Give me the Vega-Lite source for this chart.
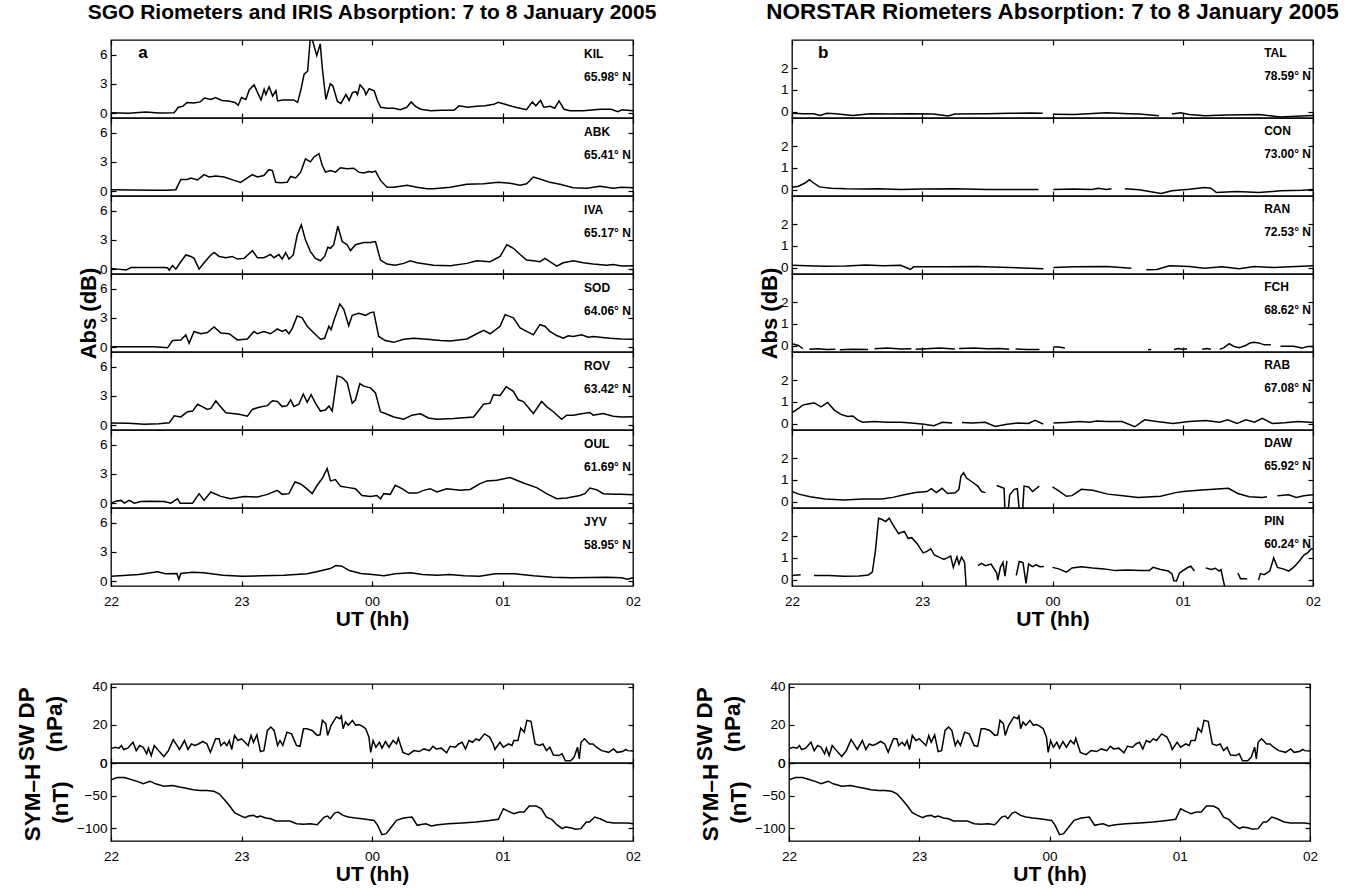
{
"$schema": "https://vega.github.io/schema/vega-lite/v6.json",
"padding": {"left": 15, "top": 0, "right": 5, "bottom": 5},
"background": "white",
"config": {
 "font": "Liberation Sans",
 "view": {"stroke": "black", "strokeWidth": 1.3},
 "axis": {"domain": false, "grid": false, "ticks": true, "tickSize": -5, "tickColor": "black", "tickWidth": 1.2, "labelColor": "black", "labelFont": "Liberation Sans", "labelFontSize": 13.5, "labelPadding": 9, "labelFlush": false, "labelOverlap": false, "titleFont": "Liberation Sans", "titleFontWeight": "bold", "titleColor": "black", "titleFontSize": 21},
 "axisX": {"labelPadding": 13, "titlePadding": 1},
 "axisY": {"titleFontSize": 22, "titlePadding": -1}
},
"datasets": {
 "KIL": [{"t":0,"v":0.05},{"t":8,"v":0.0},{"t":16,"v":0.12},{"t":22,"v":0.02},{"t":29,"v":0.05},{"t":31,"v":0.6},{"t":33,"v":0.7},{"t":35,"v":1.1},{"t":38,"v":1.05},{"t":41,"v":1.15},{"t":43,"v":1.55},{"t":46,"v":1.4},{"t":48,"v":1.6},{"t":51,"v":1.3},{"t":54,"v":1.25},{"t":57,"v":1.1},{"t":58.5,"v":0.8},{"t":60,"v":1.6},{"t":62,"v":1.4},{"t":63.6,"v":2.4},{"t":65.8,"v":2.9},{"t":67.4,"v":2.1},{"t":69,"v":1.35},{"t":70.4,"v":2.45},{"t":71.2,"v":1.9},{"t":72.7,"v":2.7},{"t":74.3,"v":1.75},{"t":75.8,"v":2.3},{"t":76.6,"v":1.25},{"t":79,"v":1.35},{"t":84,"v":1.35},{"t":85.8,"v":1.1},{"t":87.3,"v":2.4},{"t":88.8,"v":4.0},{"t":90.4,"v":4.3},{"t":91.6,"v":7.6},{"t":92.6,"v":7.5},{"t":94.6,"v":5.9},{"t":96.2,"v":7.1},{"t":97.2,"v":4.5},{"t":98.8,"v":1.4},{"t":100.8,"v":3.0},{"t":102,"v":2.8},{"t":104.1,"v":1.2},{"t":105.7,"v":1.0},{"t":108,"v":1.9},{"t":109.5,"v":1.3},{"t":111,"v":2.1},{"t":112.6,"v":2.2},{"t":113.3,"v":1.9},{"t":114.5,"v":2.9},{"t":116.4,"v":2.4},{"t":117.2,"v":1.9},{"t":118.7,"v":2.5},{"t":121,"v":2.3},{"t":122.5,"v":1.3},{"t":124,"v":0.6},{"t":127,"v":0.5},{"t":130,"v":0.5},{"t":133,"v":0.35},{"t":136,"v":0.6},{"t":138,"v":1.15},{"t":140,"v":0.7},{"t":142.4,"v":0.4},{"t":147,"v":0.25},{"t":152,"v":0.3},{"t":157.7,"v":0.3},{"t":160,"v":0.75},{"t":164,"v":0.6},{"t":168,"v":0.7},{"t":172,"v":0.75},{"t":176,"v":0.9},{"t":178,"v":1.1},{"t":182,"v":0.85},{"t":186,"v":0.6},{"t":191,"v":0.35},{"t":193.7,"v":1.15},{"t":195.3,"v":0.75},{"t":197.5,"v":1.3},{"t":199,"v":0.6},{"t":202,"v":0.7},{"t":204,"v":0.5},{"t":206,"v":1.25},{"t":208.3,"v":0.4},{"t":211,"v":0.25},{"t":217,"v":0.25},{"t":225,"v":0.4},{"t":230,"v":0.4},{"t":233,"v":0.15},{"t":235,"v":0.35},{"t":240,"v":0.25}],
 "ABK": [{"t":0,"v":0.15},{"t":10,"v":0.12},{"t":20,"v":0.1},{"t":26,"v":0.08},{"t":29.8,"v":0.15},{"t":32.1,"v":1.2},{"t":35.2,"v":1.2},{"t":36.7,"v":1.35},{"t":39.8,"v":1.15},{"t":42.8,"v":1.7},{"t":45.1,"v":1.45},{"t":48.2,"v":1.55},{"t":52,"v":1.45},{"t":56.6,"v":1.1},{"t":59.6,"v":0.9},{"t":62.7,"v":1.35},{"t":65,"v":1.7},{"t":67.3,"v":1.45},{"t":70.3,"v":1.6},{"t":72.6,"v":2.2},{"t":74.2,"v":2.1},{"t":75.7,"v":0.9},{"t":78,"v":0.85},{"t":81,"v":0.9},{"t":82.6,"v":1.5},{"t":84.9,"v":1.35},{"t":87.2,"v":1.95},{"t":89.4,"v":3.3},{"t":91.7,"v":3.0},{"t":93.3,"v":3.5},{"t":95.6,"v":3.85},{"t":97.1,"v":2.65},{"t":98.6,"v":1.95},{"t":100.9,"v":2.1},{"t":103.2,"v":1.95},{"t":105.5,"v":2.4},{"t":108.6,"v":2.3},{"t":111.6,"v":2.35},{"t":113.9,"v":1.95},{"t":116.2,"v":1.85},{"t":118.5,"v":2.0},{"t":120,"v":1.95},{"t":121.6,"v":2.05},{"t":123.9,"v":1.1},{"t":126.9,"v":0.4},{"t":130,"v":0.4},{"t":136.1,"v":0.6},{"t":140.7,"v":0.4},{"t":145.3,"v":0.25},{"t":148.3,"v":0.25},{"t":156,"v":0.4},{"t":163.6,"v":0.7},{"t":171.3,"v":0.75},{"t":178.1,"v":0.9},{"t":183.5,"v":0.8},{"t":188.1,"v":0.6},{"t":191.1,"v":0.75},{"t":194.2,"v":1.45},{"t":197.2,"v":1.25},{"t":201.8,"v":0.9},{"t":206.4,"v":0.7},{"t":212.5,"v":0.35},{"t":218.7,"v":0.3},{"t":224.8,"v":0.5},{"t":230.9,"v":0.3},{"t":234.7,"v":0.4},{"t":240,"v":0.35}],
 "IVA": [{"t":0,"v":0.07},{"t":3.1,"v":0.0},{"t":6.9,"v":-0.1},{"t":9.2,"v":0.17},{"t":13.8,"v":0.17},{"t":24.5,"v":0.17},{"t":26,"v":0.14},{"t":26.8,"v":-0.1},{"t":28.3,"v":0.38},{"t":29.8,"v":0.0},{"t":32.1,"v":0.76},{"t":34.4,"v":1.45},{"t":36.7,"v":1.3},{"t":38.2,"v":1.1},{"t":40.5,"v":0.0},{"t":42.8,"v":0.65},{"t":45.9,"v":1.45},{"t":47.4,"v":1.72},{"t":49.7,"v":1.3},{"t":52.8,"v":1.17},{"t":55.8,"v":1.3},{"t":58.1,"v":1.03},{"t":61.2,"v":1.1},{"t":65,"v":1.9},{"t":67.3,"v":1.17},{"t":70.3,"v":1.17},{"t":73.4,"v":1.5},{"t":74.9,"v":1.17},{"t":77.2,"v":1.5},{"t":78.7,"v":1.03},{"t":80.3,"v":1.7},{"t":81.8,"v":1.03},{"t":83.8,"v":1.45},{"t":85.6,"v":3.5},{"t":87.5,"v":4.55},{"t":89.4,"v":3.0},{"t":91.7,"v":1.8},{"t":94,"v":1.1},{"t":96.3,"v":0.86},{"t":98.2,"v":1.3},{"t":99.7,"v":2.24},{"t":100.9,"v":2.14},{"t":102.4,"v":2.5},{"t":104.3,"v":4.4},{"t":106.3,"v":2.83},{"t":108.6,"v":2.5},{"t":110.1,"v":1.9},{"t":112.4,"v":2.5},{"t":116.2,"v":2.72},{"t":119.3,"v":2.72},{"t":121.6,"v":2.83},{"t":123.9,"v":0.93},{"t":126.9,"v":0.52},{"t":130.7,"v":0.41},{"t":134.6,"v":0.59},{"t":137.6,"v":0.86},{"t":140.7,"v":0.65},{"t":148.3,"v":0.41},{"t":156,"v":0.34},{"t":163.6,"v":0.59},{"t":168.2,"v":0.86},{"t":174.3,"v":0.76},{"t":178.9,"v":1.3},{"t":182,"v":2.5},{"t":185,"v":2.14},{"t":188.1,"v":1.5},{"t":191.1,"v":0.93},{"t":194.2,"v":0.86},{"t":197.2,"v":0.76},{"t":199.5,"v":1.1},{"t":201.8,"v":0.76},{"t":204.9,"v":0.31},{"t":208,"v":0.65},{"t":212.5,"v":0.86},{"t":217.1,"v":0.65},{"t":221.7,"v":0.52},{"t":227.8,"v":0.41},{"t":230.9,"v":0.48},{"t":234.7,"v":0.31},{"t":240,"v":0.35}],
 "SOD": [{"t":0,"v":0.05},{"t":10,"v":0.05},{"t":20,"v":0.03},{"t":26,"v":-0.07},{"t":28.3,"v":0.67},{"t":32.1,"v":0.74},{"t":34.4,"v":1.26},{"t":35.9,"v":0.39},{"t":38.2,"v":1.61},{"t":41.3,"v":1.37},{"t":44.3,"v":1.5},{"t":47.4,"v":2.07},{"t":50.5,"v":1.44},{"t":54.3,"v":1.37},{"t":58.1,"v":0.74},{"t":62.7,"v":0.84},{"t":65.7,"v":1.61},{"t":67.3,"v":1.37},{"t":70.3,"v":1.61},{"t":73.4,"v":1.37},{"t":76.5,"v":1.86},{"t":78.7,"v":1.61},{"t":80.3,"v":1.79},{"t":81.8,"v":1.37},{"t":83.3,"v":1.9},{"t":85.6,"v":3.2},{"t":87.9,"v":3.0},{"t":90.2,"v":2.14},{"t":93.3,"v":1.44},{"t":96.3,"v":0.81},{"t":98.2,"v":0.91},{"t":100.2,"v":2.14},{"t":101.2,"v":1.79},{"t":102.4,"v":2.67},{"t":105.2,"v":4.42},{"t":107,"v":3.9},{"t":109.3,"v":2.2},{"t":110.9,"v":3.26},{"t":113.9,"v":3.47},{"t":117,"v":3.26},{"t":119.3,"v":3.54},{"t":120.8,"v":3.6},{"t":123.1,"v":1.09},{"t":126.1,"v":0.67},{"t":130,"v":0.49},{"t":134.6,"v":0.81},{"t":139.1,"v":0.91},{"t":145.3,"v":0.81},{"t":151.4,"v":0.67},{"t":156,"v":0.64},{"t":163.6,"v":0.84},{"t":168.2,"v":1.37},{"t":171.3,"v":1.72},{"t":174.3,"v":1.37},{"t":178.9,"v":2.14},{"t":181.2,"v":3.33},{"t":185,"v":3.0},{"t":188.1,"v":1.96},{"t":191.1,"v":1.61},{"t":194.2,"v":1.26},{"t":197.2,"v":2.3},{"t":199.5,"v":2.14},{"t":201.8,"v":1.61},{"t":204.9,"v":1.19},{"t":208,"v":0.91},{"t":210.2,"v":1.16},{"t":212.5,"v":1.09},{"t":216.4,"v":1.26},{"t":219.4,"v":1.02},{"t":221.7,"v":1.09},{"t":224.8,"v":1.02},{"t":229.4,"v":0.91},{"t":234.7,"v":0.84},{"t":240,"v":0.8}],
 "ROV": [{"t":0,"v":0.21},{"t":8,"v":0.2},{"t":15.3,"v":0.1},{"t":22,"v":0.15},{"t":26.8,"v":0.24},{"t":29.1,"v":0.95},{"t":32.1,"v":0.84},{"t":35.2,"v":1.37},{"t":37.5,"v":1.44},{"t":39.8,"v":2.14},{"t":42,"v":1.9},{"t":44.3,"v":1.61},{"t":45.9,"v":1.72},{"t":48.2,"v":2.5},{"t":49.7,"v":2.07},{"t":52.8,"v":1.26},{"t":55.8,"v":1.19},{"t":58.9,"v":1.12},{"t":62.7,"v":0.91},{"t":65,"v":1.61},{"t":67.3,"v":1.79},{"t":69.6,"v":1.9},{"t":71.9,"v":2.0},{"t":74.2,"v":2.5},{"t":76.5,"v":2.42},{"t":78.7,"v":1.9},{"t":81,"v":2.0},{"t":82.6,"v":2.6},{"t":84.1,"v":1.9},{"t":86.4,"v":2.14},{"t":88.4,"v":3.19},{"t":90.2,"v":2.35},{"t":92,"v":3.12},{"t":94,"v":2.25},{"t":96.3,"v":1.44},{"t":98.6,"v":1.54},{"t":100.2,"v":1.96},{"t":101.7,"v":1.44},{"t":104,"v":5.05},{"t":106.3,"v":4.88},{"t":108.6,"v":4.35},{"t":110.9,"v":2.25},{"t":112.4,"v":2.6},{"t":114.4,"v":4.25},{"t":116.2,"v":4.0},{"t":119.3,"v":3.82},{"t":121.6,"v":3.3},{"t":123.9,"v":1.37},{"t":126.1,"v":1.19},{"t":130,"v":0.84},{"t":134.6,"v":0.6},{"t":138.4,"v":1.02},{"t":142.2,"v":1.16},{"t":146,"v":0.74},{"t":149.8,"v":0.6},{"t":157.5,"v":0.67},{"t":166.7,"v":0.84},{"t":171.3,"v":2.14},{"t":174.3,"v":2.25},{"t":175.8,"v":3.12},{"t":178.9,"v":3.05},{"t":181.7,"v":3.93},{"t":185,"v":3.47},{"t":187.3,"v":2.6},{"t":189.6,"v":2.42},{"t":194.2,"v":1.19},{"t":198,"v":2.42},{"t":200.3,"v":1.9},{"t":203.4,"v":1.37},{"t":207.2,"v":0.6},{"t":209.5,"v":1.02},{"t":212.5,"v":1.02},{"t":217.1,"v":1.19},{"t":220.2,"v":1.3},{"t":221.7,"v":1.02},{"t":226.3,"v":1.19},{"t":230.9,"v":0.91},{"t":234.7,"v":0.84},{"t":240,"v":0.85}],
 "OUL": [{"t":0,"v":0.0},{"t":2.3,"v":0.2},{"t":4.6,"v":0.28},{"t":6.1,"v":0.0},{"t":8.4,"v":0.28},{"t":10.7,"v":0.0},{"t":13.8,"v":0.17},{"t":18.3,"v":0.2},{"t":24.5,"v":0.17},{"t":27.5,"v":0.0},{"t":30.6,"v":0.45},{"t":31.8,"v":0.0},{"t":37.5,"v":0.0},{"t":40.5,"v":0.97},{"t":42.8,"v":0.28},{"t":45.9,"v":1.14},{"t":50.5,"v":0.69},{"t":55,"v":0.45},{"t":61.2,"v":0.69},{"t":67.3,"v":0.62},{"t":71.9,"v":0.9},{"t":76.5,"v":1.31},{"t":78.7,"v":0.9},{"t":81.8,"v":0.97},{"t":84.6,"v":2.17},{"t":87.2,"v":1.97},{"t":89.4,"v":1.59},{"t":92.5,"v":0.97},{"t":94.8,"v":1.83},{"t":97.1,"v":2.52},{"t":99.4,"v":3.55},{"t":100.9,"v":2.28},{"t":103.2,"v":2.41},{"t":105.5,"v":1.72},{"t":109.3,"v":1.59},{"t":112.4,"v":1.48},{"t":115.4,"v":0.79},{"t":119.3,"v":0.69},{"t":122.3,"v":0.79},{"t":123.9,"v":0.45},{"t":125.4,"v":0.97},{"t":128.4,"v":0.9},{"t":130.7,"v":1.83},{"t":133.8,"v":1.48},{"t":136.9,"v":1.03},{"t":140.7,"v":1.03},{"t":143.7,"v":1.31},{"t":146.8,"v":1.48},{"t":149.8,"v":1.14},{"t":154.4,"v":1.48},{"t":160.6,"v":1.31},{"t":165.1,"v":1.4},{"t":169.7,"v":2.0},{"t":172.8,"v":2.28},{"t":177.4,"v":2.34},{"t":183.5,"v":2.62},{"t":189.6,"v":2.07},{"t":195.7,"v":1.59},{"t":200.3,"v":0.97},{"t":204.9,"v":0.45},{"t":209.5,"v":0.52},{"t":215.6,"v":0.79},{"t":217.9,"v":0.97},{"t":220.2,"v":1.55},{"t":223.2,"v":1.38},{"t":226.3,"v":0.97},{"t":230.9,"v":0.9},{"t":234.7,"v":0.9},{"t":240,"v":0.85}],
 "JYV": [{"t":0,"v":0.5},{"t":5.6,"v":0.58},{"t":12.7,"v":0.68},{"t":21.5,"v":0.95},{"t":25,"v":0.75},{"t":30.3,"v":0.78},{"t":31.2,"v":0.17},{"t":32.1,"v":0.78},{"t":37.4,"v":0.92},{"t":42.6,"v":0.85},{"t":51.5,"v":0.61},{"t":60.3,"v":0.5},{"t":69.1,"v":0.54},{"t":79.6,"v":0.61},{"t":90.2,"v":0.75},{"t":95.5,"v":1.02},{"t":100.8,"v":1.29},{"t":103.4,"v":1.6},{"t":106.1,"v":1.53},{"t":109.6,"v":1.08},{"t":114.9,"v":0.78},{"t":120.2,"v":0.68},{"t":125.5,"v":0.54},{"t":130.7,"v":0.75},{"t":137.8,"v":0.85},{"t":143.1,"v":0.68},{"t":150.1,"v":0.61},{"t":155.4,"v":0.68},{"t":162.5,"v":0.54},{"t":169.5,"v":0.5},{"t":176.6,"v":0.75},{"t":185.4,"v":0.75},{"t":194.2,"v":0.54},{"t":203,"v":0.41},{"t":211.8,"v":0.34},{"t":220.6,"v":0.37},{"t":227.7,"v":0.41},{"t":234.7,"v":0.34},{"t":237.4,"v":0.2},{"t":240,"v":0.34}],
 "TAL": [{"t":0,"v":-0.08},{"t":5,"v":-0.1},{"t":10,"v":-0.1},{"t":13,"v":-0.18},{"t":16,"v":-0.08},{"t":20,"v":-0.1},{"t":28,"v":-0.18},{"t":36,"v":-0.1},{"t":45,"v":-0.12},{"t":55,"v":-0.1},{"t":65,"v":-0.12},{"t":72,"v":-0.21},{"t":75,"v":-0.12},{"t":90,"v":-0.1},{"t":100,"v":-0.08},{"t":110,"v":-0.07},{"t":115.5,"v":-0.08},{"t":117,"v":null},{"t":120.5,"v":-0.13},{"t":130,"v":-0.14},{"t":145,"v":-0.06},{"t":155,"v":-0.1},{"t":160,"v":-0.12},{"t":169,"v":-0.2},{"t":172,"v":null},{"t":175,"v":-0.12},{"t":179,"v":-0.06},{"t":183,"v":-0.14},{"t":190,"v":-0.2},{"t":200,"v":-0.16},{"t":215,"v":-0.14},{"t":222,"v":-0.22},{"t":225,"v":-0.25},{"t":232,"v":-0.22},{"t":240,"v":-0.18}],
 "CON": [{"t":0,"v":0.1},{"t":3,"v":0.15},{"t":6,"v":0.3},{"t":8,"v":0.45},{"t":10,"v":0.3},{"t":12.6,"v":0.12},{"t":18,"v":0.06},{"t":25,"v":0.03},{"t":33,"v":0.02},{"t":40,"v":0.03},{"t":50,"v":0.0},{"t":60,"v":0.02},{"t":75,"v":0.03},{"t":90,"v":0.0},{"t":105,"v":0.0},{"t":113.5,"v":0.0},{"t":117,"v":null},{"t":120.4,"v":0.0},{"t":130,"v":0.02},{"t":138,"v":0.0},{"t":141,"v":0.06},{"t":145,"v":0.0},{"t":147.2,"v":0.03},{"t":150,"v":null},{"t":153.3,"v":0.03},{"t":160,"v":-0.01},{"t":170,"v":-0.18},{"t":175,"v":-0.06},{"t":183,"v":0.01},{"t":190,"v":0.09},{"t":193,"v":0.06},{"t":195.5,"v":-0.14},{"t":205,"v":-0.09},{"t":215,"v":-0.14},{"t":225,"v":-0.06},{"t":235,"v":-0.03},{"t":240,"v":0.0}],
 "RAN": [{"t":0,"v":0.1},{"t":7,"v":0.08},{"t":15,"v":0.06},{"t":25,"v":0.07},{"t":34,"v":0.12},{"t":42,"v":0.08},{"t":50,"v":0.1},{"t":52.5,"v":0.0},{"t":54.6,"v":-0.09},{"t":56,"v":0.03},{"t":70,"v":0.03},{"t":85,"v":0.05},{"t":100,"v":0.0},{"t":115.8,"v":-0.06},{"t":118,"v":null},{"t":120.4,"v":0.0},{"t":130,"v":0.03},{"t":145,"v":0.05},{"t":156.3,"v":-0.04},{"t":160,"v":null},{"t":163.2,"v":-0.1},{"t":168,"v":-0.09},{"t":173.9,"v":0.08},{"t":183,"v":0.05},{"t":190,"v":-0.03},{"t":198,"v":0.03},{"t":206,"v":-0.06},{"t":213,"v":0.05},{"t":222,"v":0.0},{"t":240,"v":0.08}],
 "FCH": [{"t":0,"v":0.08},{"t":3,"v":0.0},{"t":5,"v":-0.15},{"t":6,"v":null},{"t":8,"v":-0.17},{"t":12,"v":-0.15},{"t":16,"v":-0.18},{"t":20,"v":-0.17},{"t":21,"v":null},{"t":22,"v":-0.2},{"t":28,"v":-0.17},{"t":35,"v":-0.18},{"t":36,"v":null},{"t":38,"v":-0.15},{"t":44,"v":-0.12},{"t":50,"v":-0.16},{"t":55,"v":-0.15},{"t":56,"v":null},{"t":57,"v":-0.17},{"t":62,"v":-0.15},{"t":68,"v":-0.12},{"t":75,"v":-0.16},{"t":76,"v":null},{"t":77,"v":-0.14},{"t":84,"v":-0.12},{"t":90,"v":-0.15},{"t":96,"v":-0.14},{"t":100,"v":-0.17},{"t":101,"v":null},{"t":103,"v":-0.16},{"t":108,"v":-0.18},{"t":114,"v":-0.18},{"t":117,"v":null},{"t":120.4,"v":-0.07},{"t":123,"v":-0.07},{"t":125.7,"v":-0.12},{"t":130,"v":null},{"t":164,"v":-0.2},{"t":165.5,"v":-0.18},{"t":167,"v":null},{"t":176,"v":-0.18},{"t":178,"v":-0.14},{"t":180,"v":-0.17},{"t":182,"v":-0.15},{"t":184,"v":null},{"t":189,"v":-0.17},{"t":191,"v":-0.14},{"t":193,"v":-0.17},{"t":195,"v":null},{"t":197,"v":-0.18},{"t":199,"v":-0.1},{"t":201.4,"v":0.08},{"t":203.7,"v":-0.05},{"t":206,"v":-0.1},{"t":209,"v":0.0},{"t":211,"v":0.12},{"t":213,"v":0.15},{"t":215,"v":0.12},{"t":217.5,"v":0.03},{"t":220.6,"v":0.03},{"t":222,"v":null},{"t":225,"v":-0.03},{"t":231,"v":-0.03},{"t":235,"v":-0.12},{"t":237.5,"v":-0.05},{"t":240,"v":-0.05}],
 "RAB": [{"t":0,"v":0.5},{"t":3,"v":0.7},{"t":5,"v":0.85},{"t":7.2,"v":0.9},{"t":10.3,"v":0.95},{"t":13.4,"v":0.77},{"t":16.4,"v":0.97},{"t":19.5,"v":0.62},{"t":22.5,"v":0.42},{"t":25.6,"v":0.32},{"t":28,"v":0.35},{"t":30.2,"v":0.17},{"t":32.5,"v":0.06},{"t":37.8,"v":0.09},{"t":44,"v":0.06},{"t":50,"v":0.06},{"t":55,"v":0.02},{"t":60.8,"v":-0.03},{"t":65.4,"v":-0.1},{"t":69.2,"v":0.06},{"t":73.8,"v":0.02},{"t":76,"v":null},{"t":78.3,"v":0.05},{"t":83,"v":0.02},{"t":89,"v":0.06},{"t":93.6,"v":-0.14},{"t":99,"v":-0.03},{"t":104,"v":0.02},{"t":108.9,"v":0.0},{"t":112,"v":0.15},{"t":115.8,"v":-0.03},{"t":118,"v":null},{"t":120.4,"v":0.02},{"t":126,"v":0.05},{"t":132.6,"v":0.09},{"t":137,"v":0.06},{"t":140.3,"v":0.12},{"t":145,"v":0.09},{"t":152,"v":0.09},{"t":157.9,"v":-0.15},{"t":162.4,"v":0.17},{"t":168,"v":0.09},{"t":175.5,"v":0.0},{"t":183,"v":0.09},{"t":190.7,"v":0.14},{"t":197,"v":0.06},{"t":200.7,"v":0.17},{"t":205,"v":0.0},{"t":209.1,"v":0.17},{"t":213,"v":0.06},{"t":216.7,"v":0.24},{"t":221.3,"v":0.0},{"t":227,"v":0.03},{"t":233,"v":0.09},{"t":240,"v":0.05}],
 "DAW": [{"t":0,"v":0.46},{"t":3.1,"v":0.34},{"t":8.3,"v":0.22},{"t":15.3,"v":0.12},{"t":24,"v":0.07},{"t":32.6,"v":0.12},{"t":41.3,"v":0.12},{"t":46.5,"v":0.19},{"t":51.7,"v":0.31},{"t":56.9,"v":0.41},{"t":62.2,"v":0.46},{"t":64.2,"v":0.59},{"t":66.5,"v":0.41},{"t":69.1,"v":0.61},{"t":71.7,"v":0.37},{"t":75.2,"v":0.4},{"t":76.9,"v":0.56},{"t":77.8,"v":1.16},{"t":79,"v":1.33},{"t":80.4,"v":1.08},{"t":83,"v":0.9},{"t":85.6,"v":0.71},{"t":87.3,"v":0.46},{"t":89.1,"v":0.41},{"t":91.5,"v":null},{"t":94.3,"v":0.74},{"t":97.7,"v":0.61},{"t":98.3,"v":-1},{"t":99,"v":-1},{"t":100.3,"v":0.31},{"t":102.4,"v":0.56},{"t":103.8,"v":0.59},{"t":105.2,"v":-1},{"t":105.9,"v":-1},{"t":106.9,"v":0.71},{"t":109,"v":0.67},{"t":110.8,"v":0.46},{"t":113.9,"v":0.71},{"t":117,"v":null},{"t":120,"v":0.67},{"t":122.9,"v":0.49},{"t":126.4,"v":0.24},{"t":129,"v":0.27},{"t":133.3,"v":0.56},{"t":138.5,"v":0.52},{"t":145.5,"v":0.34},{"t":152.4,"v":0.27},{"t":159.4,"v":0.19},{"t":169.8,"v":0.24},{"t":176.7,"v":0.41},{"t":180.2,"v":0.46},{"t":187.2,"v":0.52},{"t":194.1,"v":0.56},{"t":201,"v":0.61},{"t":205.4,"v":0.37},{"t":210.6,"v":0.22},{"t":216.7,"v":0.19},{"t":218.8,"v":0.22},{"t":221,"v":null},{"t":223.6,"v":0.27},{"t":228.8,"v":0.31},{"t":232.3,"v":0.19},{"t":235.8,"v":0.27},{"t":240,"v":0.31}],
 "PIN": [{"t":0,"v":0.19},{"t":4,"v":0.22},{"t":6.5,"v":null},{"t":10.1,"v":0.19},{"t":17,"v":0.18},{"t":24,"v":0.15},{"t":30.9,"v":0.16},{"t":35.2,"v":0.21},{"t":37,"v":0.34},{"t":38.4,"v":1.3},{"t":39.9,"v":2.83},{"t":41.3,"v":2.78},{"t":43.1,"v":2.67},{"t":44.8,"v":2.83},{"t":46.5,"v":2.52},{"t":49.1,"v":2.12},{"t":51.7,"v":2.22},{"t":53.5,"v":1.9},{"t":55.2,"v":1.93},{"t":57.8,"v":1.63},{"t":60.4,"v":1.23},{"t":62.2,"v":1.3},{"t":63.9,"v":1.42},{"t":65.6,"v":1.13},{"t":68.2,"v":1.01},{"t":70,"v":0.93},{"t":71.7,"v":1.01},{"t":73.1,"v":1.08},{"t":74.3,"v":0.56},{"t":76,"v":1.04},{"t":76.9,"v":0.71},{"t":78.1,"v":1.04},{"t":79.5,"v":0.79},{"t":80.7,"v":-1},{"t":83,"v":null},{"t":85.6,"v":0.64},{"t":87.3,"v":0.74},{"t":89.1,"v":0.64},{"t":91.7,"v":0.71},{"t":94.3,"v":0.3},{"t":94.8,"v":-0.03},{"t":96,"v":0.56},{"t":97.2,"v":0.79},{"t":98.1,"v":0.15},{"t":99,"v":0.86},{"t":101,"v":null},{"t":103.3,"v":0.19},{"t":104.7,"v":0.83},{"t":106.4,"v":0.78},{"t":107.8,"v":-0.18},{"t":109,"v":0.71},{"t":110.8,"v":0.59},{"t":112.5,"v":0.68},{"t":114.2,"v":0.59},{"t":116,"v":0.6},{"t":118,"v":null},{"t":120,"v":0.56},{"t":122.9,"v":0.49},{"t":126.4,"v":0.34},{"t":129,"v":0.53},{"t":133.3,"v":0.59},{"t":138.5,"v":0.53},{"t":143.8,"v":0.49},{"t":149,"v":0.41},{"t":154.2,"v":0.44},{"t":161.1,"v":0.41},{"t":164.6,"v":0.41},{"t":166.3,"v":0.56},{"t":169.8,"v":0.46},{"t":173.3,"v":0.39},{"t":175,"v":0.27},{"t":175.9,"v":-0.06},{"t":177.1,"v":-0.07},{"t":178.5,"v":0.3},{"t":181.9,"v":0.53},{"t":183.7,"v":0.61},{"t":185.4,"v":0.39},{"t":188,"v":null},{"t":190.6,"v":0.53},{"t":193.2,"v":0.46},{"t":195,"v":0.52},{"t":196.7,"v":0.39},{"t":197.6,"v":0.46},{"t":199,"v":-0.18},{"t":199.7,"v":-0.5},{"t":202,"v":null},{"t":205.4,"v":0.3},{"t":206.6,"v":0.04},{"t":209.7,"v":0.04},{"t":212,"v":null},{"t":214.9,"v":-0.03},{"t":215.8,"v":0.27},{"t":217.5,"v":0.22},{"t":220.1,"v":0.39},{"t":221.9,"v":1.0},{"t":223.6,"v":0.56},{"t":226.2,"v":0.49},{"t":228.8,"v":0.39},{"t":231.4,"v":0.59},{"t":234,"v":0.89},{"t":235.8,"v":1.13},{"t":237.5,"v":1.23},{"t":239.2,"v":1.42},{"t":240,"v":1.4}],
 "SWDP": [{"t":0,"v":7.5},{"t":0.6,"v":7.8},{"t":2.1,"v":8.3},{"t":3.7,"v":7.8},{"t":4.8,"v":9.2},{"t":5.8,"v":7.1},{"t":7.7,"v":7.8},{"t":10.1,"v":10.9},{"t":11.6,"v":6.5},{"t":13.2,"v":9.2},{"t":14.8,"v":8.3},{"t":16.4,"v":4.8},{"t":17.2,"v":7.8},{"t":18.5,"v":3.9},{"t":19.9,"v":9.2},{"t":21.9,"v":6.5},{"t":24.3,"v":3.4},{"t":26.4,"v":6.5},{"t":28.6,"v":12.3},{"t":29.9,"v":10},{"t":31.5,"v":7.1},{"t":33.8,"v":11.8},{"t":35.4,"v":7.1},{"t":37,"v":10},{"t":38.6,"v":9.2},{"t":40.2,"v":10},{"t":42.2,"v":11.3},{"t":44.1,"v":10},{"t":45.7,"v":5.6},{"t":48.1,"v":12.7},{"t":49.7,"v":12.7},{"t":50.5,"v":9.2},{"t":52.1,"v":10.9},{"t":53.3,"v":9.2},{"t":54.4,"v":11.8},{"t":55.5,"v":7.1},{"t":56.8,"v":14.5},{"t":58.4,"v":11.8},{"t":60,"v":12.7},{"t":61.6,"v":10.9},{"t":63.1,"v":9.2},{"t":64.4,"v":14.5},{"t":65.5,"v":10.9},{"t":67.1,"v":14.8},{"t":68.7,"v":6},{"t":70.3,"v":6.5},{"t":71.9,"v":17.1},{"t":73.5,"v":18.9},{"t":75,"v":17.1},{"t":76.6,"v":9.2},{"t":77.7,"v":11.8},{"t":79,"v":9.2},{"t":80.9,"v":16.2},{"t":83,"v":15.3},{"t":85.3,"v":9.2},{"t":86.9,"v":8.8},{"t":88.5,"v":18},{"t":90.1,"v":18},{"t":92.5,"v":17.1},{"t":94.8,"v":14.5},{"t":96.1,"v":14.8},{"t":97.2,"v":22.4},{"t":98.8,"v":20.6},{"t":99.6,"v":14.5},{"t":101.2,"v":19.8},{"t":103.6,"v":24.2},{"t":105.2,"v":23.3},{"t":105.9,"v":24.7},{"t":106.7,"v":18},{"t":107.8,"v":21.5},{"t":109.1,"v":19.8},{"t":111,"v":22.4},{"t":112.6,"v":19.8},{"t":113.9,"v":20.2},{"t":115.5,"v":19.4},{"t":117.1,"v":18},{"t":118.6,"v":13.6},{"t":119.4,"v":5.6},{"t":120.5,"v":11.8},{"t":121.8,"v":8.3},{"t":123.4,"v":10.9},{"t":124.6,"v":7.8},{"t":126.2,"v":11.3},{"t":127.8,"v":8.3},{"t":129.7,"v":11.8},{"t":131.3,"v":10},{"t":132.1,"v":13},{"t":134.2,"v":5.6},{"t":136.8,"v":4.4},{"t":139.2,"v":6.5},{"t":141.6,"v":6},{"t":143.9,"v":7.4},{"t":146.4,"v":6.5},{"t":148,"v":8.8},{"t":149.5,"v":7.4},{"t":151.9,"v":7.8},{"t":154.3,"v":5.3},{"t":155.9,"v":8.8},{"t":158.3,"v":8.3},{"t":159.8,"v":10},{"t":161.4,"v":10.9},{"t":163,"v":7.4},{"t":164.6,"v":11.8},{"t":166.2,"v":10.9},{"t":167.8,"v":12.7},{"t":169.3,"v":11.8},{"t":171.7,"v":15.3},{"t":174.1,"v":13.6},{"t":175.7,"v":10},{"t":176.5,"v":7.1},{"t":178.8,"v":10.9},{"t":180.4,"v":8.3},{"t":182.8,"v":10},{"t":184.4,"v":9.2},{"t":185.2,"v":11.8},{"t":187.1,"v":11.8},{"t":188.4,"v":18.3},{"t":190,"v":16.2},{"t":191.2,"v":22.4},{"t":193.1,"v":21.9},{"t":195,"v":10},{"t":197,"v":9.2},{"t":198.6,"v":10},{"t":200.2,"v":6.5},{"t":201.8,"v":8.3},{"t":203.4,"v":4.2},{"t":205.8,"v":3.9},{"t":207.4,"v":4.8},{"t":208.9,"v":1.2},{"t":211.3,"v":1.2},{"t":212.9,"v":3},{"t":214.5,"v":8.3},{"t":215.3,"v":2.1},{"t":216.1,"v":10.9},{"t":217.7,"v":12.7},{"t":220,"v":10},{"t":221.6,"v":10},{"t":223.2,"v":8.3},{"t":225.6,"v":6.5},{"t":228.8,"v":5.6},{"t":231.1,"v":7.4},{"t":232.7,"v":5.6},{"t":235.1,"v":6},{"t":236.7,"v":7.1},{"t":237.5,"v":6.5},{"t":240,"v":6.3}],
 "SYMH": [{"t":0,"v":-26},{"t":2.9,"v":-22.4},{"t":6.1,"v":-22.4},{"t":8.5,"v":-24.5},{"t":12.4,"v":-28.6},{"t":14.8,"v":-32},{"t":18,"v":-28},{"t":20.4,"v":-32},{"t":24.3,"v":-35.7},{"t":28.3,"v":-34.7},{"t":31.5,"v":-37},{"t":34.6,"v":-38.8},{"t":37.8,"v":-41.3},{"t":41,"v":-42.3},{"t":44.1,"v":-42.3},{"t":47.3,"v":-43.4},{"t":49.7,"v":-47.4},{"t":52.1,"v":-56},{"t":54.4,"v":-65.3},{"t":56.8,"v":-76.5},{"t":59.2,"v":-80.6},{"t":61.6,"v":-84.2},{"t":63.2,"v":-81.6},{"t":65.5,"v":-80.6},{"t":67.1,"v":-83.2},{"t":68.7,"v":-81.6},{"t":71.1,"v":-84.7},{"t":73.5,"v":-85.7},{"t":75.8,"v":-89.3},{"t":79,"v":-89.3},{"t":82.2,"v":-89.3},{"t":85.3,"v":-93.4},{"t":88.5,"v":-94.4},{"t":91.7,"v":-93.4},{"t":94.8,"v":-94.9},{"t":96.4,"v":-89.3},{"t":98,"v":-83.2},{"t":99.6,"v":-81.6},{"t":100.8,"v":-85.7},{"t":102.8,"v":-77},{"t":104.4,"v":-75.5},{"t":106.7,"v":-80.6},{"t":109.1,"v":-83.2},{"t":112.3,"v":-84.7},{"t":115.5,"v":-85.7},{"t":118.7,"v":-87.2},{"t":121,"v":-88.3},{"t":122.6,"v":-95.9},{"t":124.6,"v":-110.2},{"t":126.5,"v":-108.7},{"t":128.9,"v":-98.5},{"t":131.3,"v":-88.3},{"t":134.5,"v":-84.7},{"t":138.4,"v":-83.2},{"t":140.8,"v":-95.9},{"t":143.2,"v":-94.4},{"t":144.8,"v":-93.4},{"t":147.2,"v":-96.9},{"t":150.3,"v":-94.9},{"t":155.1,"v":-93.4},{"t":161.4,"v":-92.3},{"t":167.8,"v":-90.8},{"t":174.1,"v":-88.3},{"t":178.1,"v":-86.7},{"t":180.4,"v":-70.4},{"t":182.8,"v":-74.5},{"t":185.2,"v":-78.1},{"t":187.6,"v":-75.5},{"t":189.9,"v":-75.5},{"t":192.3,"v":-66.3},{"t":195.5,"v":-66.3},{"t":197.9,"v":-70.4},{"t":200.2,"v":-83.2},{"t":202.6,"v":-86.7},{"t":205,"v":-94.9},{"t":207.4,"v":-101},{"t":209,"v":-98.5},{"t":211.3,"v":-99.5},{"t":213.7,"v":-102},{"t":216.1,"v":-101},{"t":218.5,"v":-90.8},{"t":220,"v":-90.8},{"t":222.4,"v":-83.2},{"t":224.8,"v":-85.7},{"t":228,"v":-90.8},{"t":231.1,"v":-92.3},{"t":234.3,"v":-92.3},{"t":237.5,"v":-92.3},{"t":240,"v":-93.4}]
},
"vconcat": [
 {"hconcat": [
  {"vconcat": [
   {"width": 522, "height": 78,
    "title": {"text": "SGO Riometers and IRIS Absorption: 7 to 8 January 2005", "frame": "group", "anchor": "middle", "fontSize": 21, "fontWeight": "bold", "font": "Liberation Sans", "color": "black", "offset": 16},
    "layer": [
     {"data": {"name": "KIL"}, "mark": {"type": "line", "color": "black", "strokeWidth": 1.5, "clip": true},
      "encoding": {"x": {"field": "t", "type": "quantitative", "scale": {"domain": [0,240], "nice": false, "zero": false}, "axis": {"values": [0,60,120,180,240], "labels": false, "title": null}},
                   "y": {"field": "v", "type": "quantitative", "scale": {"domain": [-0.5,7.5], "nice": false, "zero": false}, "axis": {"values": [0,3,6], "title": null}}}},
     {"data": {"values": [{"s": "KIL\n65.98° N"}]}, "mark": {"type": "text", "align": "left", "baseline": "alphabetic", "fontWeight": "bold", "fontSize": 12, "lineBreak": "\n", "lineHeight": 23, "color": "black"},
      "encoding": {"x": {"datum": 217.5, "type": "quantitative", "axis": {"orient": "top", "values": [0,60,120,180,240], "labels": false, "title": null}},
                   "y": {"datum": 5.7, "type": "quantitative", "axis": {"orient": "right", "values": [0,3,6], "labels": false, "title": null}},
                   "text": {"field": "s"}}},
     {"data": {"values": [{"s": "a"}]}, "mark": {"type": "text", "align": "left", "baseline": "alphabetic", "fontWeight": "bold", "fontSize": 17, "color": "black"},
      "encoding": {"x": {"datum": 12.5, "type": "quantitative", "axis": null}, "y": {"datum": 5.65, "type": "quantitative", "axis": null}, "text": {"field": "s"}}}
    ],
    "resolve": {"axis": {"x": "independent", "y": "independent"}}},
   {"width": 522, "height": 78,
    "layer": [
     {"data": {"name": "ABK"}, "mark": {"type": "line", "color": "black", "strokeWidth": 1.5, "clip": true},
      "encoding": {"x": {"field": "t", "type": "quantitative", "scale": {"domain": [0,240], "nice": false, "zero": false}, "axis": {"values": [0,60,120,180,240], "labels": false, "title": null}},
                   "y": {"field": "v", "type": "quantitative", "scale": {"domain": [-0.5,7.5], "nice": false, "zero": false}, "axis": {"values": [0,3,6], "title": null}}}},
     {"data": {"values": [{"s": "ABK\n65.41° N"}]}, "mark": {"type": "text", "align": "left", "baseline": "alphabetic", "fontWeight": "bold", "fontSize": 12, "lineBreak": "\n", "lineHeight": 23, "color": "black"},
      "encoding": {"x": {"datum": 217.5, "type": "quantitative", "axis": {"orient": "top", "values": [0,60,120,180,240], "labels": false, "title": null}},
                   "y": {"datum": 5.7, "type": "quantitative", "axis": {"orient": "right", "values": [0,3,6], "labels": false, "title": null}},
                   "text": {"field": "s"}}}
    ],
    "resolve": {"axis": {"x": "independent", "y": "independent"}}},
   {"width": 522, "height": 78,
    "layer": [
     {"data": {"name": "IVA"}, "mark": {"type": "line", "color": "black", "strokeWidth": 1.5, "clip": true},
      "encoding": {"x": {"field": "t", "type": "quantitative", "scale": {"domain": [0,240], "nice": false, "zero": false}, "axis": {"values": [0,60,120,180,240], "labels": false, "title": null}},
                   "y": {"field": "v", "type": "quantitative", "scale": {"domain": [-0.5,7.5], "nice": false, "zero": false}, "axis": {"values": [0,3,6], "title": null}}}},
     {"data": {"values": [{"s": "IVA\n65.17° N"}]}, "mark": {"type": "text", "align": "left", "baseline": "alphabetic", "fontWeight": "bold", "fontSize": 12, "lineBreak": "\n", "lineHeight": 23, "color": "black"},
      "encoding": {"x": {"datum": 217.5, "type": "quantitative", "axis": {"orient": "top", "values": [0,60,120,180,240], "labels": false, "title": null}},
                   "y": {"datum": 5.7, "type": "quantitative", "axis": {"orient": "right", "values": [0,3,6], "labels": false, "title": null}},
                   "text": {"field": "s"}}}
    ],
    "resolve": {"axis": {"x": "independent", "y": "independent"}}},
   {"width": 522, "height": 78,
    "layer": [
     {"data": {"name": "SOD"}, "mark": {"type": "line", "color": "black", "strokeWidth": 1.5, "clip": true},
      "encoding": {"x": {"field": "t", "type": "quantitative", "scale": {"domain": [0,240], "nice": false, "zero": false}, "axis": {"values": [0,60,120,180,240], "labels": false, "title": null}},
                   "y": {"field": "v", "type": "quantitative", "scale": {"domain": [-0.5,7.5], "nice": false, "zero": false}, "axis": {"values": [0,3,6], "title": "Abs (dB)"}}}},
     {"data": {"values": [{"s": "SOD\n64.06° N"}]}, "mark": {"type": "text", "align": "left", "baseline": "alphabetic", "fontWeight": "bold", "fontSize": 12, "lineBreak": "\n", "lineHeight": 23, "color": "black"},
      "encoding": {"x": {"datum": 217.5, "type": "quantitative", "axis": {"orient": "top", "values": [0,60,120,180,240], "labels": false, "title": null}},
                   "y": {"datum": 5.7, "type": "quantitative", "axis": {"orient": "right", "values": [0,3,6], "labels": false, "title": null}},
                   "text": {"field": "s"}}}
    ],
    "resolve": {"axis": {"x": "independent", "y": "independent"}}},
   {"width": 522, "height": 78,
    "layer": [
     {"data": {"name": "ROV"}, "mark": {"type": "line", "color": "black", "strokeWidth": 1.5, "clip": true},
      "encoding": {"x": {"field": "t", "type": "quantitative", "scale": {"domain": [0,240], "nice": false, "zero": false}, "axis": {"values": [0,60,120,180,240], "labels": false, "title": null}},
                   "y": {"field": "v", "type": "quantitative", "scale": {"domain": [-0.5,7.5], "nice": false, "zero": false}, "axis": {"values": [0,3,6], "title": null}}}},
     {"data": {"values": [{"s": "ROV\n63.42° N"}]}, "mark": {"type": "text", "align": "left", "baseline": "alphabetic", "fontWeight": "bold", "fontSize": 12, "lineBreak": "\n", "lineHeight": 23, "color": "black"},
      "encoding": {"x": {"datum": 217.5, "type": "quantitative", "axis": {"orient": "top", "values": [0,60,120,180,240], "labels": false, "title": null}},
                   "y": {"datum": 5.7, "type": "quantitative", "axis": {"orient": "right", "values": [0,3,6], "labels": false, "title": null}},
                   "text": {"field": "s"}}}
    ],
    "resolve": {"axis": {"x": "independent", "y": "independent"}}},
   {"width": 522, "height": 78,
    "layer": [
     {"data": {"name": "OUL"}, "mark": {"type": "line", "color": "black", "strokeWidth": 1.5, "clip": true},
      "encoding": {"x": {"field": "t", "type": "quantitative", "scale": {"domain": [0,240], "nice": false, "zero": false}, "axis": {"values": [0,60,120,180,240], "labels": false, "title": null}},
                   "y": {"field": "v", "type": "quantitative", "scale": {"domain": [-0.5,7.5], "nice": false, "zero": false}, "axis": {"values": [0,3,6], "title": null}}}},
     {"data": {"values": [{"s": "OUL\n61.69° N"}]}, "mark": {"type": "text", "align": "left", "baseline": "alphabetic", "fontWeight": "bold", "fontSize": 12, "lineBreak": "\n", "lineHeight": 23, "color": "black"},
      "encoding": {"x": {"datum": 217.5, "type": "quantitative", "axis": {"orient": "top", "values": [0,60,120,180,240], "labels": false, "title": null}},
                   "y": {"datum": 5.7, "type": "quantitative", "axis": {"orient": "right", "values": [0,3,6], "labels": false, "title": null}},
                   "text": {"field": "s"}}}
    ],
    "resolve": {"axis": {"x": "independent", "y": "independent"}}},
   {"width": 522, "height": 78,
    "layer": [
     {"data": {"name": "JYV"}, "mark": {"type": "line", "color": "black", "strokeWidth": 1.5, "clip": true},
      "encoding": {"x": {"field": "t", "type": "quantitative", "scale": {"domain": [0,240], "nice": false, "zero": false}, "axis": {"values": [0,60,120,180,240], "labelExpr": "datum.value == 0 ? '22' : datum.value == 60 ? '23' : datum.value == 120 ? '00' : datum.value == 180 ? '01' : '02'", "title": "UT (hh)"}},
                   "y": {"field": "v", "type": "quantitative", "scale": {"domain": [-0.5,7.5], "nice": false, "zero": false}, "axis": {"values": [0,3,6], "title": null}}}},
     {"data": {"values": [{"s": "JYV\n58.95° N"}]}, "mark": {"type": "text", "align": "left", "baseline": "alphabetic", "fontWeight": "bold", "fontSize": 12, "lineBreak": "\n", "lineHeight": 23, "color": "black"},
      "encoding": {"x": {"datum": 217.5, "type": "quantitative", "axis": {"orient": "top", "values": [0,60,120,180,240], "labels": false, "title": null}},
                   "y": {"datum": 5.7, "type": "quantitative", "axis": {"orient": "right", "values": [0,3,6], "labels": false, "title": null}},
                   "text": {"field": "s"}}}
    ],
    "resolve": {"axis": {"x": "independent", "y": "independent"}}}
  ], "spacing": 0, "bounds": "flush"},
  {"vconcat": [
   {"width": 521, "height": 78,
    "title": {"text": "NORSTAR Riometers Absorption: 7 to 8 January 2005", "frame": "group", "anchor": "middle", "fontSize": 22.5, "fontWeight": "bold", "font": "Liberation Sans", "color": "black", "offset": 16},
    "layer": [
     {"data": {"name": "TAL"}, "mark": {"type": "line", "color": "black", "strokeWidth": 1.5, "clip": true},
      "encoding": {"x": {"field": "t", "type": "quantitative", "scale": {"domain": [0,240], "nice": false, "zero": false}, "axis": {"values": [0,60,120,180,240], "labels": false, "title": null}},
                   "y": {"field": "v", "type": "quantitative", "scale": {"domain": [-0.3,3.3], "nice": false, "zero": false}, "axis": {"values": [0,1,2], "title": null}}}},
     {"data": {"values": [{"s": "TAL\n78.59° N"}]}, "mark": {"type": "text", "align": "left", "baseline": "alphabetic", "fontWeight": "bold", "fontSize": 12, "lineBreak": "\n", "lineHeight": 23, "color": "black"},
      "encoding": {"x": {"datum": 217.5, "type": "quantitative", "axis": {"orient": "top", "values": [0,60,120,180,240], "labels": false, "title": null}},
                   "y": {"datum": 2.5, "type": "quantitative", "axis": {"orient": "right", "values": [0,1,2], "labels": false, "title": null}},
                   "text": {"field": "s"}}},
     {"data": {"values": [{"s": "b"}]}, "mark": {"type": "text", "align": "left", "baseline": "alphabetic", "fontWeight": "bold", "fontSize": 17, "color": "black"},
      "encoding": {"x": {"datum": 12, "type": "quantitative", "axis": null}, "y": {"datum": 2.47, "type": "quantitative", "axis": null}, "text": {"field": "s"}}}
    ],
    "resolve": {"axis": {"x": "independent", "y": "independent"}}},
   {"width": 521, "height": 78,
    "layer": [
     {"data": {"name": "CON"}, "mark": {"type": "line", "color": "black", "strokeWidth": 1.5, "clip": true},
      "encoding": {"x": {"field": "t", "type": "quantitative", "scale": {"domain": [0,240], "nice": false, "zero": false}, "axis": {"values": [0,60,120,180,240], "labels": false, "title": null}},
                   "y": {"field": "v", "type": "quantitative", "scale": {"domain": [-0.3,3.3], "nice": false, "zero": false}, "axis": {"values": [0,1,2], "title": null}}}},
     {"data": {"values": [{"s": "CON\n73.00° N"}]}, "mark": {"type": "text", "align": "left", "baseline": "alphabetic", "fontWeight": "bold", "fontSize": 12, "lineBreak": "\n", "lineHeight": 23, "color": "black"},
      "encoding": {"x": {"datum": 217.5, "type": "quantitative", "axis": {"orient": "top", "values": [0,60,120,180,240], "labels": false, "title": null}},
                   "y": {"datum": 2.5, "type": "quantitative", "axis": {"orient": "right", "values": [0,1,2], "labels": false, "title": null}},
                   "text": {"field": "s"}}}
    ],
    "resolve": {"axis": {"x": "independent", "y": "independent"}}},
   {"width": 521, "height": 78,
    "layer": [
     {"data": {"name": "RAN"}, "mark": {"type": "line", "color": "black", "strokeWidth": 1.5, "clip": true},
      "encoding": {"x": {"field": "t", "type": "quantitative", "scale": {"domain": [0,240], "nice": false, "zero": false}, "axis": {"values": [0,60,120,180,240], "labels": false, "title": null}},
                   "y": {"field": "v", "type": "quantitative", "scale": {"domain": [-0.3,3.3], "nice": false, "zero": false}, "axis": {"values": [0,1,2], "title": null}}}},
     {"data": {"values": [{"s": "RAN\n72.53° N"}]}, "mark": {"type": "text", "align": "left", "baseline": "alphabetic", "fontWeight": "bold", "fontSize": 12, "lineBreak": "\n", "lineHeight": 23, "color": "black"},
      "encoding": {"x": {"datum": 217.5, "type": "quantitative", "axis": {"orient": "top", "values": [0,60,120,180,240], "labels": false, "title": null}},
                   "y": {"datum": 2.5, "type": "quantitative", "axis": {"orient": "right", "values": [0,1,2], "labels": false, "title": null}},
                   "text": {"field": "s"}}}
    ],
    "resolve": {"axis": {"x": "independent", "y": "independent"}}},
   {"width": 521, "height": 78,
    "layer": [
     {"data": {"name": "FCH"}, "mark": {"type": "line", "color": "black", "strokeWidth": 1.5, "clip": true},
      "encoding": {"x": {"field": "t", "type": "quantitative", "scale": {"domain": [0,240], "nice": false, "zero": false}, "axis": {"values": [0,60,120,180,240], "labels": false, "title": null}},
                   "y": {"field": "v", "type": "quantitative", "scale": {"domain": [-0.3,3.3], "nice": false, "zero": false}, "axis": {"values": [0,1,2], "title": "Abs (dB)"}}}},
     {"data": {"values": [{"s": "FCH\n68.62° N"}]}, "mark": {"type": "text", "align": "left", "baseline": "alphabetic", "fontWeight": "bold", "fontSize": 12, "lineBreak": "\n", "lineHeight": 23, "color": "black"},
      "encoding": {"x": {"datum": 217.5, "type": "quantitative", "axis": {"orient": "top", "values": [0,60,120,180,240], "labels": false, "title": null}},
                   "y": {"datum": 2.5, "type": "quantitative", "axis": {"orient": "right", "values": [0,1,2], "labels": false, "title": null}},
                   "text": {"field": "s"}}}
    ],
    "resolve": {"axis": {"x": "independent", "y": "independent"}}},
   {"width": 521, "height": 78,
    "layer": [
     {"data": {"name": "RAB"}, "mark": {"type": "line", "color": "black", "strokeWidth": 1.5, "clip": true},
      "encoding": {"x": {"field": "t", "type": "quantitative", "scale": {"domain": [0,240], "nice": false, "zero": false}, "axis": {"values": [0,60,120,180,240], "labels": false, "title": null}},
                   "y": {"field": "v", "type": "quantitative", "scale": {"domain": [-0.3,3.3], "nice": false, "zero": false}, "axis": {"values": [0,1,2], "title": null}}}},
     {"data": {"values": [{"s": "RAB\n67.08° N"}]}, "mark": {"type": "text", "align": "left", "baseline": "alphabetic", "fontWeight": "bold", "fontSize": 12, "lineBreak": "\n", "lineHeight": 23, "color": "black"},
      "encoding": {"x": {"datum": 217.5, "type": "quantitative", "axis": {"orient": "top", "values": [0,60,120,180,240], "labels": false, "title": null}},
                   "y": {"datum": 2.5, "type": "quantitative", "axis": {"orient": "right", "values": [0,1,2], "labels": false, "title": null}},
                   "text": {"field": "s"}}}
    ],
    "resolve": {"axis": {"x": "independent", "y": "independent"}}},
   {"width": 521, "height": 78,
    "layer": [
     {"data": {"name": "DAW"}, "mark": {"type": "line", "color": "black", "strokeWidth": 1.5, "clip": true},
      "encoding": {"x": {"field": "t", "type": "quantitative", "scale": {"domain": [0,240], "nice": false, "zero": false}, "axis": {"values": [0,60,120,180,240], "labels": false, "title": null}},
                   "y": {"field": "v", "type": "quantitative", "scale": {"domain": [-0.3,3.3], "nice": false, "zero": false}, "axis": {"values": [0,1,2], "title": null}}}},
     {"data": {"values": [{"s": "DAW\n65.92° N"}]}, "mark": {"type": "text", "align": "left", "baseline": "alphabetic", "fontWeight": "bold", "fontSize": 12, "lineBreak": "\n", "lineHeight": 23, "color": "black"},
      "encoding": {"x": {"datum": 217.5, "type": "quantitative", "axis": {"orient": "top", "values": [0,60,120,180,240], "labels": false, "title": null}},
                   "y": {"datum": 2.5, "type": "quantitative", "axis": {"orient": "right", "values": [0,1,2], "labels": false, "title": null}},
                   "text": {"field": "s"}}}
    ],
    "resolve": {"axis": {"x": "independent", "y": "independent"}}},
   {"width": 521, "height": 78,
    "layer": [
     {"data": {"name": "PIN"}, "mark": {"type": "line", "color": "black", "strokeWidth": 1.5, "clip": true},
      "encoding": {"x": {"field": "t", "type": "quantitative", "scale": {"domain": [0,240], "nice": false, "zero": false}, "axis": {"values": [0,60,120,180,240], "labelExpr": "datum.value == 0 ? '22' : datum.value == 60 ? '23' : datum.value == 120 ? '00' : datum.value == 180 ? '01' : '02'", "title": "UT (hh)"}},
                   "y": {"field": "v", "type": "quantitative", "scale": {"domain": [-0.3,3.3], "nice": false, "zero": false}, "axis": {"values": [0,1,2], "title": null}}}},
     {"data": {"values": [{"s": "PIN\n60.24° N"}]}, "mark": {"type": "text", "align": "left", "baseline": "alphabetic", "fontWeight": "bold", "fontSize": 12, "lineBreak": "\n", "lineHeight": 23, "color": "black"},
      "encoding": {"x": {"datum": 217.5, "type": "quantitative", "axis": {"orient": "top", "values": [0,60,120,180,240], "labels": false, "title": null}},
                   "y": {"datum": 2.5, "type": "quantitative", "axis": {"orient": "right", "values": [0,1,2], "labels": false, "title": null}},
                   "text": {"field": "s"}}}
    ],
    "resolve": {"axis": {"x": "independent", "y": "independent"}}}
  ], "spacing": 0, "bounds": "flush"}
 ], "spacing": 99},
 {"hconcat": [
  {"vconcat": [
   {"width": 522, "height": 79,
    "layer": [
     {"data": {"name": "SWDP"}, "mark": {"type": "line", "color": "black", "strokeWidth": 1.5, "clip": true},
      "encoding": {"x": {"field": "t", "type": "quantitative", "scale": {"domain": [0,240], "nice": false, "zero": false}, "axis": {"values": [0,60,120,180,240], "labels": false, "title": null}},
                   "y": {"field": "v", "type": "quantitative", "scale": {"domain": [0,41.5], "nice": false, "zero": false}, "axis": {"values": [0,20,40], "title": ["SW DP", "(nPa)"], "titleFontSize": 22.5, "titleLineHeight": 28, "titlePadding": 25}}}},
     {"data": {"values": [{"s": ""}]}, "mark": {"type": "text"},
      "encoding": {"x": {"datum": 100, "type": "quantitative", "axis": {"orient": "top", "values": [0,60,120,180,240], "labels": false, "title": null}},
                   "y": {"datum": 10, "type": "quantitative", "axis": {"orient": "right", "values": [0,20,40], "labels": false, "title": null}},
                   "text": {"field": "s"}}}
    ],
    "resolve": {"axis": {"x": "independent", "y": "independent"}}},
   {"width": 522, "height": 78,
    "layer": [
     {"data": {"name": "SYMH"}, "mark": {"type": "line", "color": "black", "strokeWidth": 1.5, "clip": true},
      "encoding": {"x": {"field": "t", "type": "quantitative", "scale": {"domain": [0,240], "nice": false, "zero": false}, "axis": {"values": [0,60,120,180,240], "labelExpr": "datum.value == 0 ? '22' : datum.value == 60 ? '23' : datum.value == 120 ? '00' : datum.value == 180 ? '01' : '02'", "title": "UT (hh)"}},
                   "y": {"field": "v", "type": "quantitative", "scale": {"domain": [-120,0], "nice": false, "zero": false}, "axis": {"values": [-100,-50,0], "title": ["SYM–H", "(nT)"], "titleFontSize": 22.5, "titleLineHeight": 28, "titlePadding": 4}}}},
     {"data": {"values": [{"s": ""}]}, "mark": {"type": "text"},
      "encoding": {"x": {"datum": 100, "type": "quantitative", "axis": {"orient": "top", "values": [0,60,120,180,240], "labels": false, "title": null}},
                   "y": {"datum": -60, "type": "quantitative", "axis": {"orient": "right", "values": [-100,-50,0], "labels": false, "title": null}},
                   "text": {"field": "s"}}}
    ],
    "resolve": {"axis": {"x": "independent", "y": "independent"}}}
  ], "spacing": 0, "bounds": "flush"},
  {"vconcat": [
   {"width": 521, "height": 79,
    "layer": [
     {"data": {"name": "SWDP"}, "mark": {"type": "line", "color": "black", "strokeWidth": 1.5, "clip": true},
      "encoding": {"x": {"field": "t", "type": "quantitative", "scale": {"domain": [0,240], "nice": false, "zero": false}, "axis": {"values": [0,60,120,180,240], "labels": false, "title": null}},
                   "y": {"field": "v", "type": "quantitative", "scale": {"domain": [0,41.5], "nice": false, "zero": false}, "axis": {"values": [0,20,40], "title": ["SW DP", "(nPa)"], "titleFontSize": 22.5, "titleLineHeight": 28, "titlePadding": 25}}}},
     {"data": {"values": [{"s": ""}]}, "mark": {"type": "text"},
      "encoding": {"x": {"datum": 100, "type": "quantitative", "axis": {"orient": "top", "values": [0,60,120,180,240], "labels": false, "title": null}},
                   "y": {"datum": 10, "type": "quantitative", "axis": {"orient": "right", "values": [0,20,40], "labels": false, "title": null}},
                   "text": {"field": "s"}}}
    ],
    "resolve": {"axis": {"x": "independent", "y": "independent"}}},
   {"width": 521, "height": 78,
    "layer": [
     {"data": {"name": "SYMH"}, "mark": {"type": "line", "color": "black", "strokeWidth": 1.5, "clip": true},
      "encoding": {"x": {"field": "t", "type": "quantitative", "scale": {"domain": [0,240], "nice": false, "zero": false}, "axis": {"values": [0,60,120,180,240], "labelExpr": "datum.value == 0 ? '22' : datum.value == 60 ? '23' : datum.value == 120 ? '00' : datum.value == 180 ? '01' : '02'", "title": "UT (hh)"}},
                   "y": {"field": "v", "type": "quantitative", "scale": {"domain": [-120,0], "nice": false, "zero": false}, "axis": {"values": [-100,-50,0], "title": ["SYM–H", "(nT)"], "titleFontSize": 22.5, "titleLineHeight": 28, "titlePadding": 4}}}},
     {"data": {"values": [{"s": ""}]}, "mark": {"type": "text"},
      "encoding": {"x": {"datum": 100, "type": "quantitative", "axis": {"orient": "top", "values": [0,60,120,180,240], "labels": false, "title": null}},
                   "y": {"datum": -60, "type": "quantitative", "axis": {"orient": "right", "values": [-100,-50,0], "labels": false, "title": null}},
                   "text": {"field": "s"}}}
    ],
    "resolve": {"axis": {"x": "independent", "y": "independent"}}}
  ], "spacing": 0, "bounds": "flush"}
 ], "spacing": 51}
], "spacing": 48}
